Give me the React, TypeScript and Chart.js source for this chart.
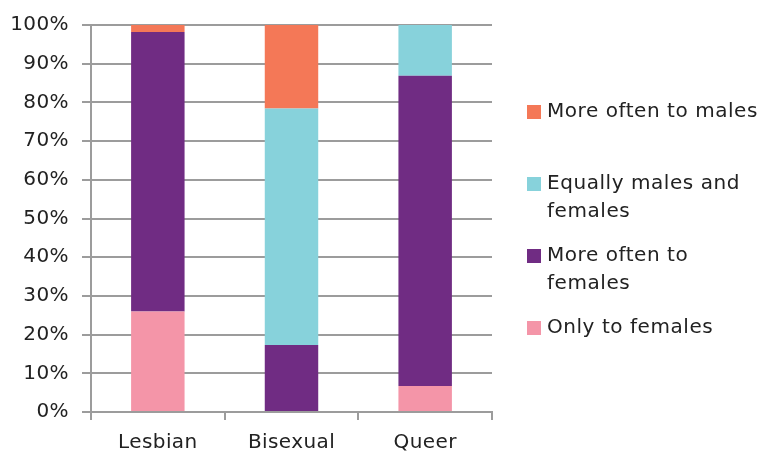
import { useEffect, useRef } from "react";
import { Chart, registerables } from "chart.js";

Chart.register(...registerables);

const categories = ["Lesbian", "Bisexual", "Queer"];
const onlyToFemales = [26, 0, 6.7];
const moreOftenToFemales = [72.2, 17.3, 80.2];
const equallyMalesFemales = [0, 61.1, 13.1];
const moreOftenToMales = [1.8, 21.6, 0];
const yTicks = [0, 10, 20, 30, 40, 50, 60, 70, 80, 90, 100];

const seriesLabels = [
  "Only to females",
  "More often to\nfemales",
  "Equally males and\nfemales",
  "More often to males",
];
const seriesColors = ["#F495A8", "#702C83", "#87D2DB", "#F47857"];

const GRID = "#9c9c9c";
const FONT = "'DejaVu Sans', sans-serif";

const spacingPlugin = {
  id: "letterSpacing",
  beforeDraw(chart: any) {
    chart.ctx.letterSpacing = "0.4px";
  },
};

const legendPlugin = {
  id: "sideLegend",
  afterDraw(chart: any) {
    const ctx = chart.ctx;
    const ds = chart.data.datasets;
    ctx.save();
    ctx.font = `20px ${FONT}`;
    (ctx as any).letterSpacing = "0.55px";
    ctx.textBaseline = "middle";
    ctx.textAlign = "left";
    const boxX = 527;
    const textX = 547;
    const startY = 112;
    const step = 72;
    const lineH = 28;
    for (let i = ds.length - 1, k = 0; i >= 0; i--, k++) {
      const y = startY + k * step;
      ctx.fillStyle = ds[i].backgroundColor;
      ctx.fillRect(boxX, y - 7, 14, 14);
      ctx.fillStyle = "#222";
      const lines = String(ds[i].label).split("\n");
      lines.forEach((ln: string, j: number) => ctx.fillText(ln, textX, y + j * lineH));
    }
    ctx.restore();
  },
};

export default function App() {
  const ref = useRef<HTMLCanvasElement | null>(null);
  useEffect(() => {
    if (!ref.current) return;
    const data = [onlyToFemales, moreOftenToFemales, equallyMalesFemales, moreOftenToMales];
    const chart = new Chart(ref.current, {
      type: "bar",
      data: {
        labels: categories,
        datasets: data.map((d, i) => ({
          label: seriesLabels[i],
          data: d,
          backgroundColor: seriesColors[i],
          borderWidth: 0,
          categoryPercentage: 1,
          barPercentage: 0.4,
        })),
      },
      options: {
        animation: false,
        responsive: false,
        maintainAspectRatio: false,
        layout: { padding: { top: 24, right: 271, bottom: 0, left: 0 } },
        plugins: { legend: { display: false }, tooltip: { enabled: false } },
        scales: {
          x: {
            stacked: true,
            grid: {
              display: true,
              drawOnChartArea: false,
              tickLength: 8,
              offset: true,
              color: GRID,
              lineWidth: 2,
            },
            border: { display: true, color: GRID, width: 2 },
            ticks: { color: "#222", font: { family: FONT, size: 20 }, padding: 11 },
            afterFit: (s: any) => {
              s.height = 43;
            },
          },
          y: {
            stacked: true,
            min: 0,
            max: 100,
            afterBuildTicks: (s: any) => {
              s.ticks = yTicks.map((v) => ({ value: v }));
            },
            grid: { color: GRID, lineWidth: 2, tickLength: 9 },
            border: { display: true, color: GRID, width: 2 },
            ticks: {
              color: "#222",
              font: { family: FONT, size: 20 },
              padding: 13,
              callback: (v: any) => `${v}%`,
            },
            afterFit: (s: any) => {
              s.width = 91;
            },
          },
        },
      },
      plugins: [spacingPlugin, legendPlugin],
    });
    return () => chart.destroy();
  }, []);
  return (
    <div style={{ position: "fixed", left: 0, top: 0, width: 763, height: 455, background: "#fff" }}>
      <canvas ref={ref} width={763} height={455} style={{ width: 763, height: 455 }} />
    </div>
  );
}
